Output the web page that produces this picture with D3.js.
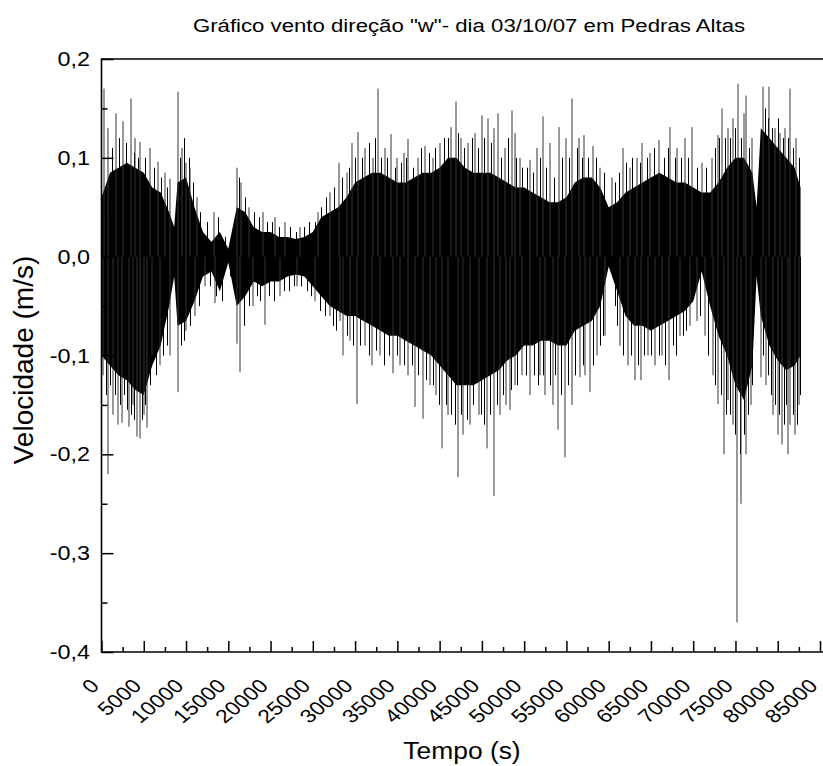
<!DOCTYPE html>
<html>
<head>
<meta charset="utf-8">
<script src="https://cdn.jsdelivr.net/npm/d3@7"></script>
<style>
  body { margin: 0; background: #fff; }
  text { font-family: "Liberation Sans", Arial, sans-serif; fill: #000; }
</style>
</head>
<body>
<div id="canvas"></div>
<script>
"use strict"

/* Data: envelope of the dense signal (time in s, velocity in m/s) */
let envT = [0, 1000, 2000, 3000, 4000, 5000, 6000, 7000, 8000, 8600, 9000, 10000,
  11000, 12000, 13000, 14000, 15000, 16000, 17000, 18000, 19000, 20000, 21000,
  22000, 23000, 24000, 25000, 26000, 27000, 28000, 29000, 30000, 31000, 32000,
  33000, 34000, 35000, 36000, 37000, 38000, 39000, 40000, 41000, 42000, 43000,
  44000, 45000, 46000, 47000, 48000, 49000, 50000, 51000, 52000, 53000, 54000,
  55000, 56000, 57000, 58000, 59000, 60000, 61000, 62000, 63000, 64000, 65000,
  66000, 67000, 68000, 69000, 70000, 71000, 72000, 73000, 74000, 75000, 76000,
  77000, 77500, 78000, 79000, 80000, 81000, 82000, 82700];
let envTop = [0.06, 0.085, 0.09, 0.095, 0.09, 0.085, 0.07, 0.065, 0.045, 0.03, 0.075, 0.08,
  0.05, 0.025, 0.015, 0.025, 0.008, 0.05, 0.045, 0.03, 0.025, 0.025, 0.02,
  0.02, 0.018, 0.02, 0.025, 0.04, 0.045, 0.05, 0.06, 0.075, 0.08, 0.085,
  0.085, 0.08, 0.075, 0.075, 0.08, 0.085, 0.085, 0.09, 0.1, 0.1, 0.09,
  0.085, 0.085, 0.085, 0.08, 0.075, 0.07, 0.07, 0.065, 0.06, 0.055, 0.055,
  0.06, 0.075, 0.08, 0.08, 0.07, 0.05, 0.055, 0.065, 0.07, 0.075, 0.08,
  0.085, 0.08, 0.075, 0.075, 0.07, 0.065, 0.065, 0.075, 0.09, 0.1, 0.1,
  0.085, 0.05, 0.13, 0.12, 0.11, 0.1, 0.09, 0.07];
let envBot = [-0.1, -0.11, -0.12, -0.125, -0.135, -0.14, -0.11, -0.09, -0.05, -0.02, -0.07, -0.065,
  -0.045, -0.02, -0.015, -0.035, -0.006, -0.05, -0.04, -0.025, -0.03, -0.025, -0.025,
  -0.02, -0.018, -0.02, -0.03, -0.04, -0.05, -0.055, -0.06, -0.06, -0.065, -0.07,
  -0.075, -0.08, -0.08, -0.085, -0.09, -0.095, -0.1, -0.11, -0.12, -0.13, -0.13,
  -0.13, -0.125, -0.12, -0.115, -0.105, -0.1, -0.09, -0.09, -0.085, -0.085, -0.09,
  -0.09, -0.075, -0.07, -0.065, -0.05, -0.01, -0.035, -0.06, -0.07, -0.07, -0.075,
  -0.07, -0.065, -0.06, -0.055, -0.045, -0.015, -0.05, -0.08, -0.1, -0.13, -0.145,
  -0.11, -0.02, -0.06, -0.09, -0.105, -0.115, -0.11, -0.1];

/* Tall peaks sticking out above the dense part */
let spikeUpT = [300, 770, 1700, 2550, 3500, 4000, 4550, 5700, 6700, 7500, 8100, 9050,
  9500, 10000, 10500, 11300, 13300, 16000, 16500, 17500, 19100, 20500, 21700, 23500,
  25600, 27000, 28100, 29000, 29600, 30400, 31200, 32100, 32700, 33500, 34300, 35000,
  35800, 36300, 37400, 38300, 39200, 40000, 41300, 41900, 42500, 43400, 44200, 45000,
  45700, 46400, 46900, 47700, 48600, 48900, 49500, 50700, 51500, 52200, 53000, 54100,
  54950, 55700, 56500, 57100, 58100, 59000, 60400, 61700, 62500, 63300, 64000, 64900,
  66000, 67300, 68100, 69000, 69900, 71000, 72200, 72900, 73400, 74100, 74700, 75300,
  76000, 76300, 77000, 78200, 79000, 79700, 80300, 80900, 81500, 82200];
let spikeUpV = [0.17, 0.13, 0.145, 0.137, 0.16, 0.12, 0.116, 0.11, 0.096, 0.085, 0.079, 0.167,
  0.11, 0.095, 0.09, 0.06, 0.045, 0.09, 0.075, 0.05, 0.045, 0.04, 0.035, 0.03,
  0.045, 0.065, 0.095, 0.085, 0.115, 0.126, 0.11, 0.1, 0.17, 0.11, 0.124, 0.1,
  0.105, 0.119, 0.1, 0.112, 0.1, 0.115, 0.131, 0.157, 0.12, 0.115, 0.125, 0.143,
  0.14, 0.13, 0.145, 0.11, 0.148, 0.125, 0.1, 0.098, 0.11, 0.142, 0.115, 0.131,
  0.12, 0.16, 0.12, 0.123, 0.112, 0.09, 0.08, 0.11, 0.09, 0.1, 0.115, 0.105,
  0.118, 0.131, 0.11, 0.12, 0.131, 0.095, 0.1, 0.123, 0.15, 0.13, 0.14, 0.175,
  0.145, 0.163, 0.12, 0.172, 0.172, 0.13, 0.125, 0.13, 0.17, 0.12];

/* Tall peaks sticking out below the dense part */
let spikeDownT = [200, 770, 1350, 1950, 2400, 3250, 3700, 4200, 4550, 5000, 5400, 6000,
  6900, 8100, 9050, 10000, 11050, 12250, 13400, 16000, 16400, 17900, 19300, 21100,
  23100, 25300, 27000, 28200, 28600, 29400, 30200, 31200, 32000, 33000, 34500, 35300,
  36300, 37100, 38000, 38900, 39600, 40300, 41000, 42200, 42800, 43600, 44600, 45600,
  46400, 47100, 47800, 48300, 48900, 49700, 50700, 51900, 52500, 53400, 54000, 54800,
  55700, 56600, 57200, 57800, 58600, 59600, 61300, 62300, 63100, 63800, 64700, 65500,
  66300, 67100, 68400, 69600, 70400, 71400, 72300, 72900, 73600, 74100, 74700, 75200,
  75700, 76200, 76800, 78000, 78600, 79400, 80000, 80500, 81200, 81500, 82000, 82500];
let spikeDownV = [-0.12, -0.22, -0.16, -0.17, -0.168, -0.172, -0.15, -0.182, -0.184, -0.16, -0.173, -0.1,
  -0.11, -0.1, -0.137, -0.075, -0.06, -0.03, -0.047, -0.088, -0.117, -0.05, -0.069, -0.04,
  -0.03, -0.045, -0.06, -0.065, -0.1, -0.085, -0.149, -0.09, -0.11, -0.1, -0.118, -0.11,
  -0.12, -0.152, -0.164, -0.13, -0.14, -0.194, -0.16, -0.223, -0.18, -0.17, -0.16, -0.194,
  -0.242, -0.16, -0.15, -0.155, -0.13, -0.12, -0.14, -0.12, -0.14, -0.15, -0.175, -0.203,
  -0.15, -0.122, -0.12, -0.137, -0.1, -0.08, -0.09, -0.11, -0.125, -0.125, -0.1, -0.11,
  -0.1, -0.125, -0.08, -0.07, -0.065, -0.08, -0.12, -0.149, -0.2, -0.145, -0.17, -0.37,
  -0.25, -0.2, -0.15, -0.122, -0.13, -0.16, -0.18, -0.19, -0.2, -0.17, -0.18, -0.15];

/* Shorter peaks that make the ragged edge of the dense part */
let edgeUpT = [1200, 2100, 2900, 3800, 4300, 5200, 6200, 7000, 7800, 9300, 9800, 10300, 10800,
  11700, 12500, 13800, 14600, 15500, 16300, 17000, 18000, 18600, 19600, 20200, 21000,
  22300, 23000, 24000, 24600, 25200, 26000, 26500, 27500, 28500, 29300, 30000, 30800,
  31600, 32400, 33100, 33800, 34700, 35400, 36000, 36800, 37800, 38700, 39500, 40500,
  41000, 42200, 42900, 43800, 44500, 45300, 46100, 47300, 48100, 49000, 49800, 50300,
  51100, 51900, 52600, 53500, 54500, 55300, 56200, 56800, 57500, 58500, 59500, 60800,
  61200, 62000, 62800, 63700, 64500, 65400, 66500, 67000, 67800, 68600, 69400, 70500,
  71500, 72600, 73000, 73800, 74400, 75000, 75600, 76600, 78500, 78800, 79300, 80000,
  80600, 81200, 81800, 82500];
let edgeUpV = [0.11, 0.12, 0.115, 0.105, 0.1, 0.1, 0.09, 0.08, 0.07, 0.1, 0.12, 0.1, 0.075,
  0.045, 0.035, 0.04, 0.02, 0.03, 0.08, 0.06, 0.045, 0.04, 0.035, 0.035, 0.03,
  0.03, 0.025, 0.03, 0.035, 0.035, 0.05, 0.06, 0.07, 0.08, 0.09, 0.1, 0.1,
  0.115, 0.12, 0.1, 0.1, 0.09, 0.095, 0.1, 0.09, 0.11, 0.105, 0.11, 0.12,
  0.12, 0.125, 0.11, 0.12, 0.11, 0.12, 0.115, 0.1, 0.12, 0.1, 0.09, 0.09,
  0.085, 0.1, 0.09, 0.08, 0.1, 0.1, 0.11, 0.1, 0.1, 0.1, 0.085, 0.075,
  0.085, 0.095, 0.1, 0.095, 0.1, 0.11, 0.1, 0.11, 0.1, 0.1, 0.1, 0.09,
  0.09, 0.11, 0.12, 0.12, 0.12, 0.13, 0.12, 0.11, 0.15, 0.14, 0.13, 0.14,
  0.12, 0.12, 0.11, 0.1];
let edgeDownT = [500, 1000, 1600, 2200, 2700, 3000, 3500, 3900, 4800, 5200, 5700, 6400, 7300,
  7700, 9400, 9800, 10500, 11500, 12800, 13600, 14300, 15200, 15700, 16800, 17400,
  18400, 18800, 19800, 20400, 21600, 22200, 22800, 23600, 24300, 24800, 25800, 26400,
  27400, 27800, 29000, 29800, 30600, 31600, 32500, 33400, 34000, 34900, 35800, 36700,
  37500, 38400, 39200, 39900, 40700, 41400, 41800, 42500, 43200, 44000, 44900, 45300,
  46000, 46800, 47500, 48500, 49200, 50200, 51200, 51600, 52200, 53000, 53700, 54400,
  55200, 56000, 57000, 58200, 59000, 59300, 60700, 61000, 61700, 62700, 63500, 64200,
  65000, 65900, 66700, 67600, 68000, 68800, 69200, 70800, 71800, 72600, 73300, 73900,
  74400, 75000, 75500, 76000, 76500, 77000, 78300, 78900, 79200, 79700, 80200, 80800,
  81000, 81800, 82300, 82600];
let edgeDownV = [-0.14, -0.13, -0.14, -0.15, -0.14, -0.155, -0.16, -0.165, -0.165, -0.15, -0.13, -0.12, -0.1,
  -0.09, -0.09, -0.085, -0.07, -0.05, -0.03, -0.04, -0.045, -0.02, -0.03, -0.07, -0.05,
  -0.04, -0.045, -0.04, -0.045, -0.035, -0.035, -0.03, -0.03, -0.035, -0.04, -0.055, -0.06,
  -0.07, -0.075, -0.08, -0.09, -0.09, -0.1, -0.095, -0.11, -0.1, -0.1, -0.11, -0.11,
  -0.12, -0.125, -0.13, -0.15, -0.15, -0.16, -0.17, -0.16, -0.165, -0.15, -0.16, -0.17,
  -0.16, -0.15, -0.14, -0.135, -0.13, -0.12, -0.12, -0.13, -0.12, -0.13, -0.12, -0.14,
  -0.13, -0.12, -0.11, -0.11, -0.09, -0.08, -0.05, -0.07, -0.1, -0.1, -0.11, -0.1,
  -0.1, -0.1, -0.11, -0.09, -0.1, -0.08, -0.075, -0.06, -0.1, -0.13, -0.14, -0.16,
  -0.16, -0.18, -0.2, -0.18, -0.16, -0.13, -0.1, -0.12, -0.14, -0.15, -0.16, -0.17,
  -0.15, -0.16, -0.17, -0.14];

/* Tick labels */
let xTickValues = [0, 5000, 10000, 15000, 20000, 25000, 30000, 35000, 40000,
  45000, 50000, 55000, 60000, 65000, 70000, 75000, 80000, 85000];
let xTickLabels = ["0", "5000", "10000", "15000", "20000", "25000", "30000", "35000", "40000",
  "45000", "50000", "55000", "60000", "65000", "70000", "75000", "80000", "85000"];
let yTickValues = [-0.4, -0.3, -0.2, -0.1, 0, 0.1, 0.2];
let yTickLabels = ["-0,4", "-0,3", "-0,2", "-0,1", "0,0", "0,1", "0,2"];

/* Drawing config */
let svgWidth = 823;
let svgHeight = 766;
let plotLeft = 101.5, plotTop = 59, plotBottom = 652;
let stretch = 1.2; // the original image is a bit wider than tall

let svg = d3.select("#canvas")
    .append("svg")
    .attr("width", svgWidth)
    .attr("height", svgHeight);

let xScale = d3.scaleLinear()
    .domain([0, 85000])
    .range([plotLeft, 820]);

let yScale = d3.scaleLinear()
    .domain([-0.4, 0.2])
    .range([plotBottom, plotTop]);

let plot = svg.append("g");

// dense part of the signal
let envData = envT.map(function (t, i) { return { t: t, hi: envTop[i], lo: envBot[i] }; });
plot.append("path")
    .datum(envData)
    .attr("fill", "#000")
    .attr("d", d3.area()
        .x(function (d) { return xScale(d.t); })
        .y0(function (d) { return yScale(d.lo); })
        .y1(function (d) { return yScale(d.hi); }));

// spikes: thin lines from zero to each peak
function drawSpikes(ts, vs, colour, shift) {
    plot.append("g")
        .selectAll("line")
        .data(ts)
        .join("line")
        .attr("x1", function (t) { return Math.round(xScale(t)) + shift; })
        .attr("x2", function (t) { return Math.round(xScale(t)) + shift; })
        .attr("y1", yScale(0))
        .attr("y2", function (t, i) { return yScale(vs[i]); })
        .attr("stroke", colour)
        .attr("stroke-width", 1);
}
drawSpikes(edgeUpT, edgeUpV, "#000", 0.5);
drawSpikes(edgeDownT, edgeDownV, "#000", 0.5);
drawSpikes(spikeUpT, spikeUpV, "#333", 0);
drawSpikes(spikeDownT, spikeDownV, "#333", 0);

/* Frame */
svg.append("path")
    .attr("fill", "none")
    .attr("stroke", "#000")
    .attr("stroke-width", 1.6)
    .attr("d", "M" + xScale(86000) + "," + plotTop + "H" + plotLeft + "V" + plotBottom + "H" + xScale(86000));

/* Ticks, pointing inward */
svg.append("g")
    .attr("transform", "translate(" + plotLeft + ",0)")
    .call(d3.axisRight(yScale).tickValues(yTickValues).tickSize(12).tickSizeOuter(0).tickFormat(""))
    .call(function (g) { g.select(".domain").remove(); });
svg.append("g")
    .attr("transform", "translate(" + plotLeft + ",0)")
    .call(d3.axisRight(yScale).tickValues(d3.range(-0.35, 0.2, 0.1)).tickSize(6).tickSizeOuter(0).tickFormat(""))
    .call(function (g) { g.select(".domain").remove(); });
svg.append("g")
    .attr("transform", "translate(0," + plotBottom + ")")
    .call(d3.axisTop(xScale).tickValues(xTickValues).tickSize(11).tickSizeOuter(0).tickFormat(""))
    .call(function (g) { g.select(".domain").remove(); });
svg.append("g")
    .attr("transform", "translate(0," + plotBottom + ")")
    .call(d3.axisTop(xScale).tickValues(d3.range(2500, 85000, 5000)).tickSize(5).tickSizeOuter(0).tickFormat(""))
    .call(function (g) { g.select(".domain").remove(); });
svg.selectAll(".tick line").attr("stroke", "#000").attr("stroke-width", 1.5);

/* Tick labels */
svg.append("g")
    .selectAll("text")
    .data(yTickValues)
    .join("text")
    .attr("transform", function (d) { return "translate(90," + yScale(d) + ") scale(" + stretch + ",1)"; })
    .attr("text-anchor", "end")
    .attr("dy", "0.36em")
    .style("font-size", "19.5px")
    .text(function (d, i) { return yTickLabels[i]; });

svg.append("g")
    .selectAll("text")
    .data(xTickValues)
    .join("text")
    .attr("transform", function (d) {
        return "translate(" + (xScale(d) - 1) + ",687) scale(" + stretch + ",1) rotate(-45)";
    })
    .attr("text-anchor", "end")
    .style("font-size", "19px")
    .text(function (d, i) { return xTickLabels[i]; });

/* Titles */
svg.append("text")
    .attr("transform", "translate(469,32) scale(" + stretch + ",1)")
    .attr("text-anchor", "middle")
    .style("font-size", "18.5px")
    .text("Gráfico vento direção \"w\"- dia 03/10/07 em Pedras Altas");

svg.append("text")
    .attr("transform", "translate(462,759) scale(1.1,1)")
    .attr("text-anchor", "middle")
    .style("font-size", "24px")
    .text("Tempo (s)");

svg.append("text")
    .attr("transform", "translate(33,360) rotate(-90)")
    .attr("text-anchor", "middle")
    .style("font-size", "28px")
    .text("Velocidade (m/s)");
</script>
</body>
</html>
